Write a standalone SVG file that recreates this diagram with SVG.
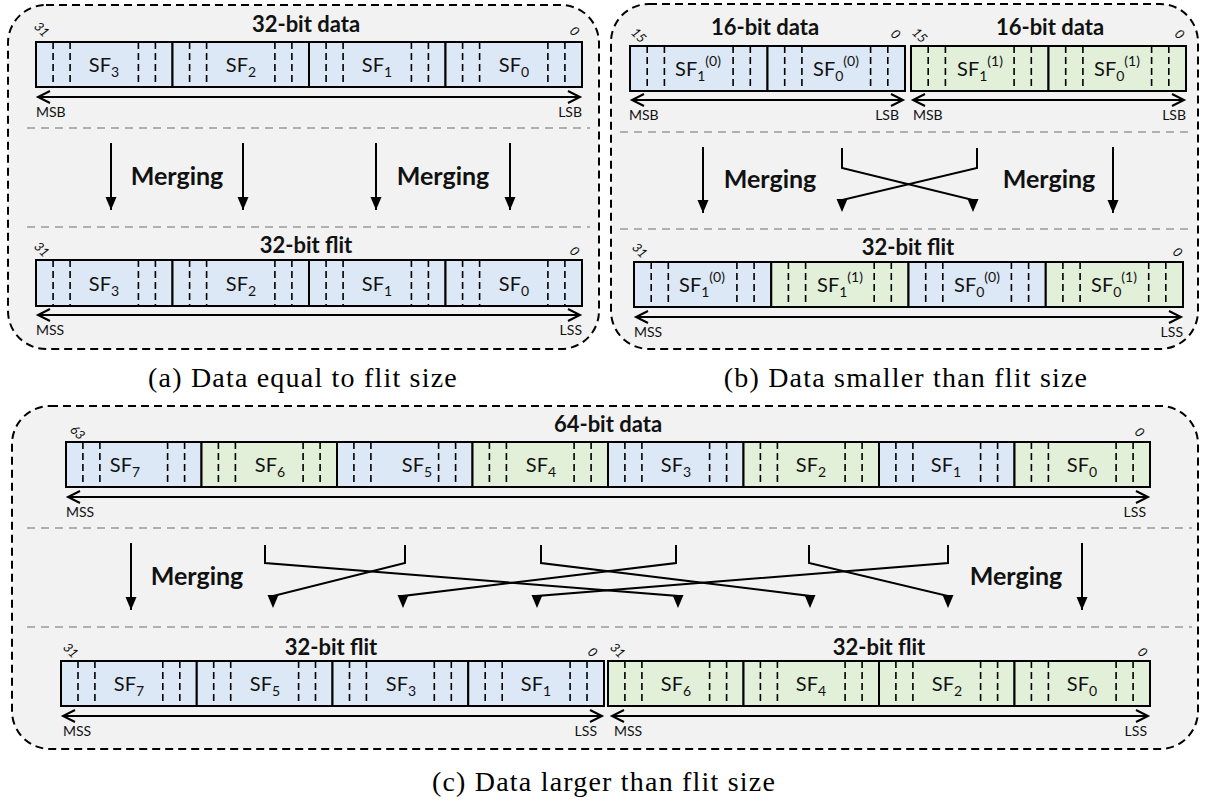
<svg xmlns="http://www.w3.org/2000/svg" width="1208" height="803" viewBox="0 0 1208 803">
<style>
.panel{fill:#f2f2f2;stroke:#000;stroke-width:2;stroke-dasharray:8 5}
.sep{stroke:#9a9a9a;stroke-width:1.6;stroke-dasharray:8 6;fill:none}
.blue{fill:#dce8f5;stroke:#000;stroke-width:2}
.green{fill:#e2efd9;stroke:#000;stroke-width:2}
.dash{stroke:#000;stroke-width:1.6;stroke-dasharray:7 4;fill:none}
text{font-family:Lato,'Liberation Sans',sans-serif;fill:#111}
.title{font-weight:700;font-size:22px;text-anchor:middle}
.merge{font-weight:700;font-size:25px;text-anchor:middle}
.sf{font-size:20px;text-anchor:middle}
.sm{font-size:14px}
.lbl{font-size:14px}
.end{text-anchor:end}
.bit{font-style:italic;font-size:13px;text-anchor:middle}
.cap{font-family:'Liberation Serif','Times New Roman',serif;font-size:28px;letter-spacing:1.2px;text-anchor:middle;fill:#000}
.dbl{stroke:#000;stroke-width:2;fill:none;marker-start:url(#oa);marker-end:url(#oa)}
.arr{stroke:#000;stroke-width:2;fill:none;marker-end:url(#fa)}
.crs{stroke:#000;stroke-width:2;fill:none;marker-end:url(#fb)}
</style>
<defs>
<marker id="oa" markerUnits="userSpaceOnUse" markerWidth="14" markerHeight="14" refX="12" refY="6" orient="auto-start-reverse" overflow="visible"><path d="M0,0 L12,6 L0,12" fill="none" stroke="#000" stroke-width="2"/></marker>
<marker id="fa" markerUnits="userSpaceOnUse" markerWidth="13" markerHeight="11" refX="13" refY="5.5" orient="auto" overflow="visible"><path d="M0,0 L13,5.5 L0,11 z" fill="#000"/></marker>
<marker id="fb" markerUnits="userSpaceOnUse" markerWidth="13" markerHeight="11" refX="2" refY="5.5" orient="auto" overflow="visible"><path d="M0,0 L13,5.5 L0,11 z" fill="#000"/></marker>
</defs>

<!-- Panel (a) -->
<g id="panel-a">
<rect class="panel" x="8" y="5" width="591" height="344" rx="38"/>
<path class="sep" d="M27,128 H590 M27,227 H590"/>
<text class="cap" x="303" y="387">(a) Data equal to flit size</text>
</g>
<g id="a-data">
<text class="title" x="306" y="32">32-bit data</text>
<text class="bit" transform="rotate(45 42 29)" x="42" y="34">31</text>
<text class="bit" transform="rotate(45 575 31)" x="575" y="36">0</text>
<rect class="blue" x="36" y="42" width="136.5" height="45"/>
<rect class="blue" x="172.5" y="42" width="136.5" height="45"/>
<rect class="blue" x="309" y="42" width="136.5" height="45"/>
<rect class="blue" x="445.5" y="42" width="136.5" height="45"/>
<path class="dash" d="M53.1,42V87M70.1,42V87M138.4,42V87M155.4,42V87M189.6,42V87M206.6,42V87M274.9,42V87M291.9,42V87M326.1,42V87M343.1,42V87M411.4,42V87M428.4,42V87M462.6,42V87M479.6,42V87M547.9,42V87M564.9,42V87"/>
<text class="sf" x="104" y="72">SF<tspan class="sm" dy="5">3</tspan></text>
<text class="sf" x="241" y="72">SF<tspan class="sm" dy="5">2</tspan></text>
<text class="sf" x="377" y="72">SF<tspan class="sm" dy="5">1</tspan></text>
<text class="sf" x="514" y="72">SF<tspan class="sm" dy="5">0</tspan></text>
<path class="dbl" d="M38,97 H580"/>
<text class="lbl" x="36" y="117">MSB</text>
<text class="lbl end" x="582" y="117">LSB</text>
</g>
<g id="a-merge">
<text class="merge" x="177" y="185">Merging</text>
<text class="merge" x="443" y="185">Merging</text>
</g>
<g id="a-flit">
<text class="title" x="306" y="253">32-bit flit</text>
<text class="bit" transform="rotate(45 42 249)" x="42" y="254">31</text>
<text class="bit" transform="rotate(45 575 251)" x="575" y="256">0</text>
<rect class="blue" x="36" y="260" width="136.5" height="46"/>
<rect class="blue" x="172.5" y="260" width="136.5" height="46"/>
<rect class="blue" x="309" y="260" width="136.5" height="46"/>
<rect class="blue" x="445.5" y="260" width="136.5" height="46"/>
<path class="dash" d="M53.1,260V306M70.1,260V306M138.4,260V306M155.4,260V306M189.6,260V306M206.6,260V306M274.9,260V306M291.9,260V306M326.1,260V306M343.1,260V306M411.4,260V306M428.4,260V306M462.6,260V306M479.6,260V306M547.9,260V306M564.9,260V306"/>
<text class="sf" x="104" y="291">SF<tspan class="sm" dy="5">3</tspan></text>
<text class="sf" x="241" y="291">SF<tspan class="sm" dy="5">2</tspan></text>
<text class="sf" x="377" y="291">SF<tspan class="sm" dy="5">1</tspan></text>
<text class="sf" x="514" y="291">SF<tspan class="sm" dy="5">0</tspan></text>
<path class="dbl" d="M38,315 H580"/>
<text class="lbl" x="36" y="335">MSS</text>
<text class="lbl end" x="582" y="335">LSS</text>
</g>

<!-- Panel (b) -->
<g id="panel-b">
<rect class="panel" x="611" y="4" width="587" height="345" rx="38"/>
<path class="sep" d="M620,132 H1190 M620,229 H1190"/>
<text class="cap" x="906" y="387">(b) Data smaller than flit size</text>
</g>
<g id="b-data0">
<text class="title" x="765" y="35">16-bit data</text>
<text class="bit" transform="rotate(45 639 35)" x="639" y="40">15</text>
<text class="bit" transform="rotate(45 896 34)" x="896" y="39">0</text>
<rect class="blue" x="630" y="46" width="137.5" height="45"/>
<rect class="blue" x="767.5" y="46" width="137.5" height="45"/>
<path class="dash" d="M647.2,46V91M664.4,46V91M733.1,46V91M750.3,46V91M784.7,46V91M801.9,46V91M870.6,46V91M887.8,46V91"/>
<text class="sf" x="698" y="76">SF<tspan class="sm" dy="5">1</tspan><tspan class="sm" dy="-15">(0)</tspan></text>
<text class="sf" x="836" y="76">SF<tspan class="sm" dy="5">0</tspan><tspan class="sm" dy="-15">(0)</tspan></text>
<path class="dbl" d="M632,100 H903"/>
<text class="lbl" x="629" y="120">MSB</text>
<text class="lbl end" x="899" y="120">LSB</text>
</g>
<g id="b-data1">
<text class="title" x="1050" y="35">16-bit data</text>
<text class="bit" transform="rotate(45 920 35)" x="920" y="40">15</text>
<text class="bit" transform="rotate(45 1180 34)" x="1180" y="39">0</text>
<rect class="green" x="911" y="46" width="137.5" height="45"/>
<rect class="green" x="1048.5" y="46" width="137.5" height="45"/>
<path class="dash" d="M928.2,46V91M945.4,46V91M1014.1,46V91M1031.3,46V91M1065.7,46V91M1082.9,46V91M1151.6,46V91M1168.8,46V91"/>
<text class="sf" x="980" y="76">SF<tspan class="sm" dy="5">1</tspan><tspan class="sm" dy="-15">(1)</tspan></text>
<text class="sf" x="1117" y="76">SF<tspan class="sm" dy="5">0</tspan><tspan class="sm" dy="-15">(1)</tspan></text>
<path class="dbl" d="M913,100 H1184"/>
<text class="lbl" x="913" y="120">MSB</text>
<text class="lbl end" x="1186" y="120">LSB</text>
</g>
<g id="b-merge">
<text class="merge" x="770" y="188">Merging</text>
<text class="merge" x="1049" y="188">Merging</text>
</g>
<g id="b-flit">
<text class="title" x="908" y="255">32-bit flit</text>
<text class="bit" transform="rotate(45 640 250)" x="640" y="255">31</text>
<text class="bit" transform="rotate(45 1178 252)" x="1178" y="257">0</text>
<rect class="blue" x="634" y="262" width="137.25" height="45"/>
<rect class="green" x="771.25" y="262" width="137.25" height="45"/>
<rect class="blue" x="908.5" y="262" width="137.25" height="45"/>
<rect class="green" x="1045.75" y="262" width="137.25" height="45"/>
<path class="dash" d="M651.2,262V307M668.3,262V307M736.9,262V307M754.1,262V307M788.4,262V307M805.6,262V307M874.2,262V307M891.3,262V307M925.7,262V307M942.8,262V307M1011.4,262V307M1028.6,262V307M1062.9,262V307M1080.1,262V307M1148.7,262V307M1165.8,262V307"/>
<text class="sf" x="702" y="292">SF<tspan class="sm" dy="5">1</tspan><tspan class="sm" dy="-15">(0)</tspan></text>
<text class="sf" x="840" y="292">SF<tspan class="sm" dy="5">1</tspan><tspan class="sm" dy="-15">(1)</tspan></text>
<text class="sf" x="977" y="292">SF<tspan class="sm" dy="5">0</tspan><tspan class="sm" dy="-15">(0)</tspan></text>
<text class="sf" x="1114" y="292">SF<tspan class="sm" dy="5">0</tspan><tspan class="sm" dy="-15">(1)</tspan></text>
<path class="dbl" d="M636,317 H1181"/>
<text class="lbl" x="634" y="337">MSS</text>
<text class="lbl end" x="1183" y="337">LSS</text>
</g>

<!-- Panel (c) -->
<g id="panel-c">
<rect class="panel" x="12" y="406" width="1186" height="343" rx="38"/>
<path class="sep" d="M27,528 H1192 M27,627 H1192"/>
<text class="cap" x="604" y="791">(c) Data larger than flit size</text>
</g>
<g id="c-data">
<text class="title" x="608" y="432">64-bit data</text>
<text class="bit" transform="rotate(45 78 432)" x="78" y="437">63</text>
<text class="bit" transform="rotate(45 1140 432)" x="1140" y="437">0</text>
<rect class="blue" x="66" y="442" width="135.5" height="45"/>
<rect class="green" x="201.5" y="442" width="135.5" height="45"/>
<rect class="blue" x="337" y="442" width="135.5" height="45"/>
<rect class="green" x="472.5" y="442" width="135.5" height="45"/>
<rect class="blue" x="608" y="442" width="135.5" height="45"/>
<rect class="green" x="743.5" y="442" width="135.5" height="45"/>
<rect class="blue" x="879" y="442" width="135.5" height="45"/>
<rect class="green" x="1014.5" y="442" width="135.5" height="45"/>
<path class="dash" d="M82.9,442V487M99.9,442V487M167.6,442V487M184.6,442V487M218.4,442V487M235.4,442V487M303.1,442V487M320.1,442V487M353.9,442V487M370.9,442V487M438.6,442V487M455.6,442V487M489.4,442V487M506.4,442V487M574.1,442V487M591.1,442V487M624.9,442V487M641.9,442V487M709.6,442V487M726.6,442V487M760.4,442V487M777.4,442V487M845.1,442V487M862.1,442V487M895.9,442V487M912.9,442V487M980.6,442V487M997.6,442V487M1031.4,442V487M1048.4,442V487M1116.1,442V487M1133.1,442V487"/>
<text class="sf" x="125" y="472">SF<tspan class="sm" dy="5">7</tspan></text>
<text class="sf" x="270" y="472">SF<tspan class="sm" dy="5">6</tspan></text>
<text class="sf" x="417" y="472">SF<tspan class="sm" dy="5">5</tspan></text>
<text class="sf" x="541" y="472">SF<tspan class="sm" dy="5">4</tspan></text>
<text class="sf" x="676" y="472">SF<tspan class="sm" dy="5">3</tspan></text>
<text class="sf" x="811" y="472">SF<tspan class="sm" dy="5">2</tspan></text>
<text class="sf" x="946" y="472">SF<tspan class="sm" dy="5">1</tspan></text>
<text class="sf" x="1082" y="472">SF<tspan class="sm" dy="5">0</tspan></text>
<path class="dbl" d="M68,497 H1148"/>
<text class="lbl" x="66" y="517">MSS</text>
<text class="lbl end" x="1146" y="517">LSS</text>
</g>
<g id="c-merge">
<text class="merge" x="197" y="585">Merging</text>
<text class="merge" x="1016" y="585">Merging</text>
</g>
<g id="c-flit0">
<text class="title" x="331" y="655">32-bit flit</text>
<text class="bit" transform="rotate(45 71 650)" x="71" y="655">31</text>
<text class="bit" transform="rotate(45 593 652)" x="593" y="657">0</text>
<rect class="blue" x="61" y="661" width="135.75" height="45"/>
<rect class="blue" x="196.75" y="661" width="135.75" height="45"/>
<rect class="blue" x="332.5" y="661" width="135.75" height="45"/>
<rect class="blue" x="468.25" y="661" width="135.75" height="45"/>
<path class="dash" d="M78,661V706M94.9,661V706M162.8,661V706M179.8,661V706M213.7,661V706M230.7,661V706M298.6,661V706M315.5,661V706M349.5,661V706M366.4,661V706M434.3,661V706M451.3,661V706M485.2,661V706M502.2,661V706M570.1,661V706M587,661V706"/>
<text class="sf" x="129" y="691">SF<tspan class="sm" dy="5">7</tspan></text>
<text class="sf" x="265" y="691">SF<tspan class="sm" dy="5">5</tspan></text>
<text class="sf" x="401" y="691">SF<tspan class="sm" dy="5">3</tspan></text>
<text class="sf" x="536" y="691">SF<tspan class="sm" dy="5">1</tspan></text>
<path class="dbl" d="M63,716 H602"/>
<text class="lbl" x="63" y="736">MSS</text>
<text class="lbl end" x="597" y="736">LSS</text>
</g>
<g id="c-flit1">
<text class="title" x="879" y="655">32-bit flit</text>
<text class="bit" transform="rotate(45 618 650)" x="618" y="655">31</text>
<text class="bit" transform="rotate(45 1143 652)" x="1143" y="657">0</text>
<rect class="green" x="608" y="661" width="135.5" height="45"/>
<rect class="green" x="743.5" y="661" width="135.5" height="45"/>
<rect class="green" x="879" y="661" width="135.5" height="45"/>
<rect class="green" x="1014.5" y="661" width="135.5" height="45"/>
<path class="dash" d="M624.9,661V706M641.9,661V706M709.6,661V706M726.6,661V706M760.4,661V706M777.4,661V706M845.1,661V706M862.1,661V706M895.9,661V706M912.9,661V706M980.6,661V706M997.6,661V706M1031.4,661V706M1048.4,661V706M1116.1,661V706M1133.1,661V706"/>
<text class="sf" x="676" y="691">SF<tspan class="sm" dy="5">6</tspan></text>
<text class="sf" x="811" y="691">SF<tspan class="sm" dy="5">4</tspan></text>
<text class="sf" x="947" y="691">SF<tspan class="sm" dy="5">2</tspan></text>
<text class="sf" x="1082" y="691">SF<tspan class="sm" dy="5">0</tspan></text>
<path class="dbl" d="M612,716 H1148"/>
<text class="lbl" x="614" y="736">MSS</text>
<text class="lbl end" x="1147" y="736">LSS</text>
</g>

<!-- Connectors -->
<g id="connectors">
<path class="arr" d="M111,143 V210"/>
<path class="arr" d="M243,143 V210"/>
<path class="arr" d="M376,143 V210"/>
<path class="arr" d="M510,143 V210"/>
<path class="arr" d="M703,147 V213"/>
<path class="arr" d="M1113,147 V213"/>
<path class="crs" d="M842,148 V168 L973,200 V201"/>
<path class="crs" d="M977,148 V168 L842,200 V201"/>
<path class="arr" d="M131,543 V610"/>
<path class="arr" d="M1082,543 V610"/>
<path class="crs" d="M265,545 V563 L678,596 V597"/>
<path class="crs" d="M405,545 V563 L273,596 V597"/>
<path class="crs" d="M541,545 V563 L810,596 V597"/>
<path class="crs" d="M676,545 V563 L403,596 V597"/>
<path class="crs" d="M809,545 V563 L948,596 V597"/>
<path class="crs" d="M948,545 V563 L537,596 V597"/>
</g>
</svg>
